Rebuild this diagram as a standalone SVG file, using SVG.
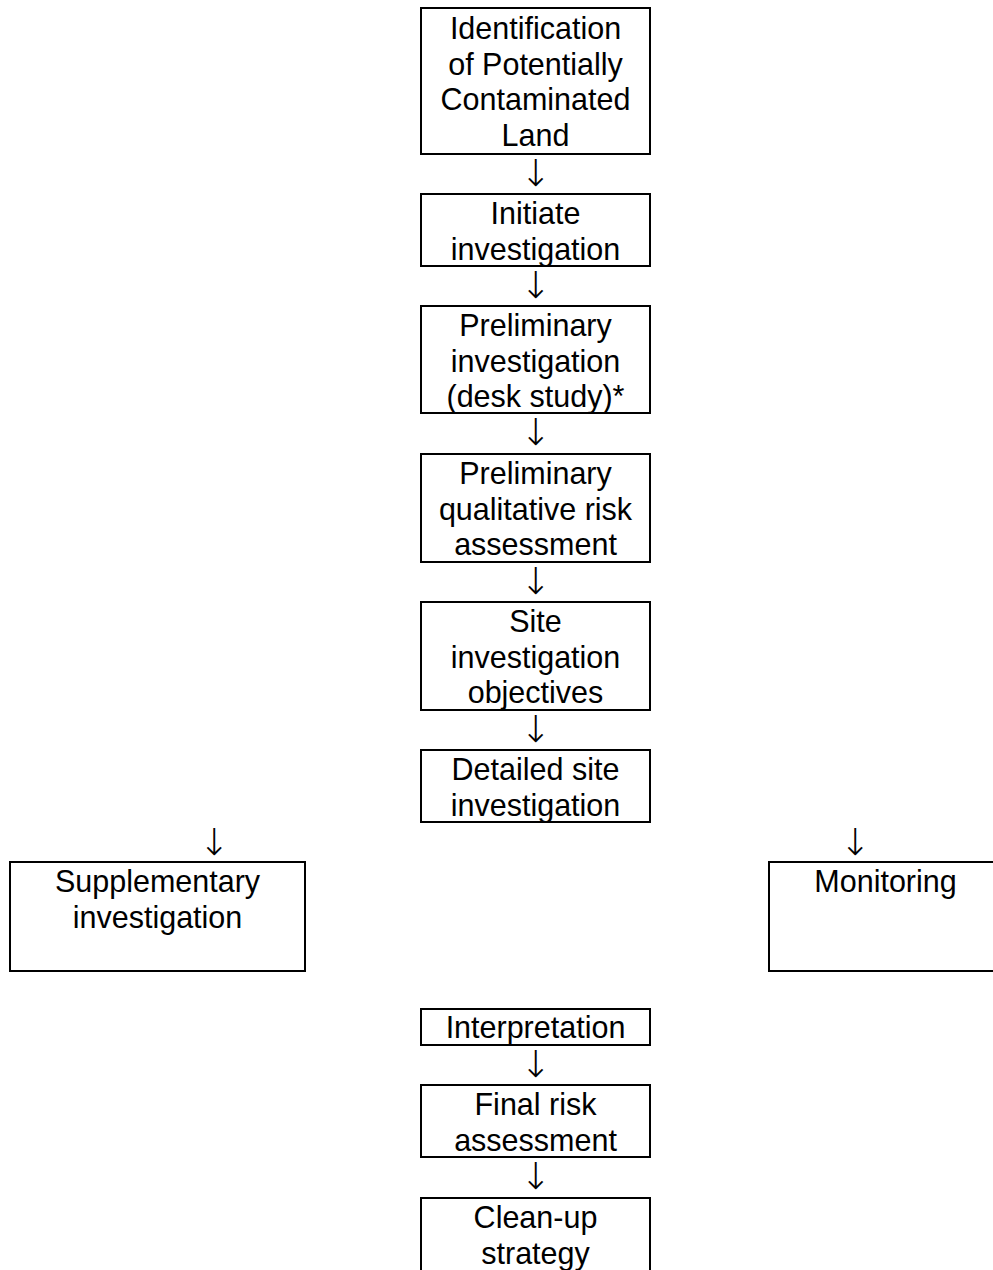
<svg xmlns="http://www.w3.org/2000/svg" width="993" height="1270" viewBox="0 0 993 1270">
<style>
.box{fill:#fff;stroke:#000;stroke-width:2}
.t{font-family:"Liberation Sans",Arial,sans-serif;font-size:30.5px;fill:#000;text-anchor:middle}
.a{font-family:"DejaVu Sans",sans-serif;font-weight:200;font-size:37px;fill:#000;text-anchor:middle}
</style>
<rect width="993" height="1270" fill="#fff"/>
<g id="connectors">
<text class="a" x="535.5" y="186">↓</text>
<text class="a" x="535.5" y="298">↓</text>
<text class="a" x="535.5" y="445">↓</text>
<text class="a" x="535.5" y="594">↓</text>
<text class="a" x="535.5" y="742">↓</text>
<text class="a" x="214" y="855">↓</text>
<text class="a" x="855" y="855">↓</text>
<text class="a" x="535.5" y="1077">↓</text>
<text class="a" x="535.5" y="1189">↓</text>
</g>
<g id="n1"><rect class="box" x="421" y="8" width="229" height="146"/>
<text class="t" x="535.5" y="39">Identification</text>
<text class="t" x="535.5" y="74.5">of Potentially</text>
<text class="t" x="535.5" y="110">Contaminated</text>
<text class="t" x="535.5" y="145.5">Land</text></g>
<g id="n2"><rect class="box" x="421" y="194" width="229" height="72"/>
<text class="t" x="535.5" y="224">Initiate</text>
<text class="t" x="535.5" y="259.5">investigation</text></g>
<g id="n3"><rect class="box" x="421" y="306" width="229" height="107"/>
<text class="t" x="535.5" y="336">Preliminary</text>
<text class="t" x="535.5" y="371.5">investigation</text>
<text class="t" x="535.5" y="407">(desk study)*</text></g>
<g id="n4"><rect class="box" x="421" y="454" width="229" height="108"/>
<text class="t" x="535.5" y="484">Preliminary</text>
<text class="t" x="535.5" y="519.5">qualitative risk</text>
<text class="t" x="535.5" y="555">assessment</text></g>
<g id="n5"><rect class="box" x="421" y="602" width="229" height="108"/>
<text class="t" x="535.5" y="632">Site</text>
<text class="t" x="535.5" y="667.5">investigation</text>
<text class="t" x="535.5" y="703">objectives</text></g>
<g id="n6"><rect class="box" x="421" y="750" width="229" height="72"/>
<text class="t" x="535.5" y="780">Detailed site</text>
<text class="t" x="535.5" y="815.5">investigation</text></g>
<g id="n7"><rect class="box" x="10" y="862" width="295" height="109"/>
<text class="t" x="157.5" y="892">Supplementary</text>
<text class="t" x="157.5" y="927.5">investigation</text></g>
<g id="n8"><rect class="box" x="769" y="862" width="234" height="109"/>
<text class="t" x="885.5" y="892">Monitoring</text></g>
<g id="n9"><rect class="box" x="421" y="1009" width="229" height="36"/>
<text class="t" x="535.5" y="1038">Interpretation</text></g>
<g id="n10"><rect class="box" x="421" y="1085" width="229" height="72"/>
<text class="t" x="535.5" y="1115">Final risk</text>
<text class="t" x="535.5" y="1150.5">assessment</text></g>
<g id="n11"><rect class="box" x="421" y="1198" width="229" height="90"/>
<text class="t" x="535.5" y="1228">Clean-up</text>
<text class="t" x="535.5" y="1263.5">strategy</text></g>
</svg>
